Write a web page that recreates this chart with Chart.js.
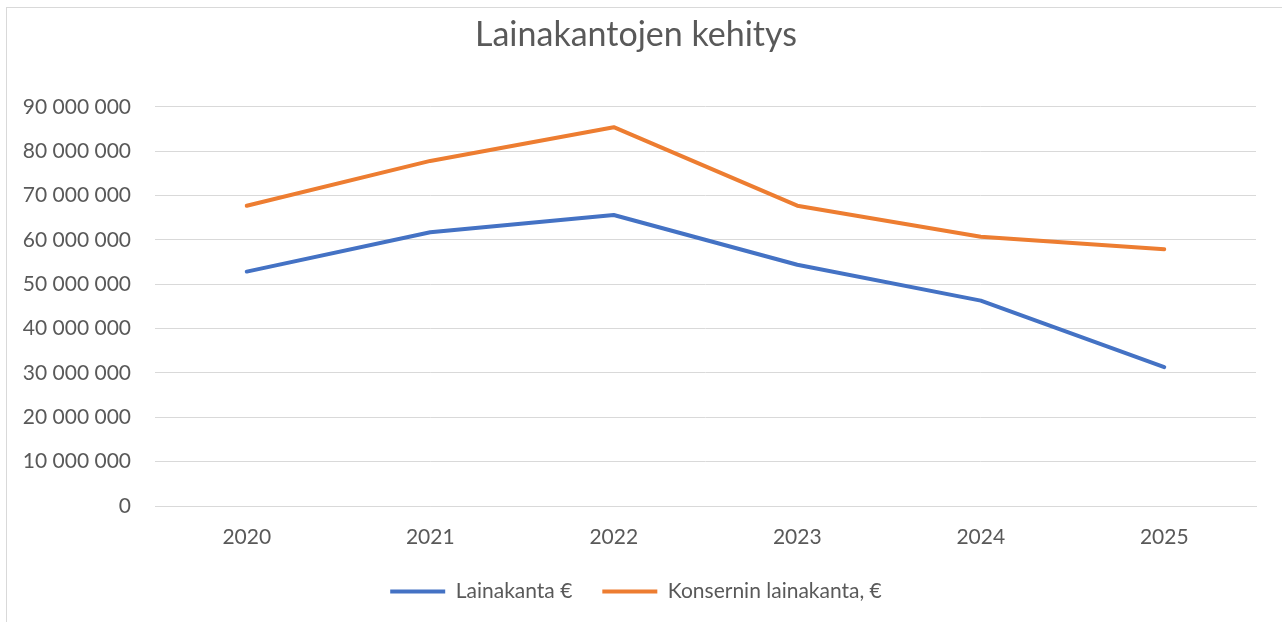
<!DOCTYPE html>
<html lang="fi">
<head>
    <meta charset="UTF-8">
    <title>Lainakantojen kehitys</title>
    <script src="https://cdn.jsdelivr.net/npm/chart.js"></script>
    <style>
        html, body { margin: 0; padding: 0; background: #fff; overflow: hidden; }
        .frame {
            position: absolute; left: 6px; top: 7px;
            width: 1300px; height: 640px;
            border: 1px solid #d9d9d9;
        }
        .chart-box { position: absolute; left: 0; top: 0; width: 1282px; height: 622px; }
    </style>
</head>
<body>
    <div class="frame"></div>
    <div class="chart-box">
        <canvas id="loanChart"></canvas>
    </div>
<script>
    // Values
    const years = ['2020', '2021', '2022', '2023', '2024', '2025'];
    const lainakanta = [52850000, 61700000, 65600000, 54400000, 46300000, 31300000];
    const konserninLainakanta = [67700000, 77800000, 85400000, 67700000, 60700000, 57900000];

    const textColor = '#595959';
    const gridColor = '#d9d9d9';
    const fontFamily = 'Lato, "Noto Sans", sans-serif';

    // 90 000 000 style numbers
    function formatNumber(v) {
        return String(v).replace(/\B(?=(\d{3})+(?!\d))/g, ' ');
    }

    const ctx = document.getElementById('loanChart').getContext('2d');
    new Chart(ctx, {
        type: 'line',
        data: {
            labels: years,
            datasets: [{
                label: 'Lainakanta €',
                data: lainakanta,
                borderColor: '#4472c4',
                backgroundColor: '#4472c4',
                borderWidth: 4,
                pointRadius: 0,
                tension: 0,
                borderCapStyle: 'round',
                borderJoinStyle: 'round'
            }, {
                label: 'Konsernin lainakanta, €',
                data: konserninLainakanta,
                borderColor: '#ed7d31',
                backgroundColor: '#ed7d31',
                borderWidth: 4,
                pointRadius: 0,
                tension: 0,
                borderCapStyle: 'round',
                borderJoinStyle: 'round'
            }]
        },
        options: {
            responsive: true,
            maintainAspectRatio: false,
            animation: false,
            layout: {
                padding: { left: 16, right: 26, top: 15, bottom: 10 }
            },
            scales: {
                x: {
                    offset: true,
                    grid: { display: false, drawTicks: false },
                    border: { display: true, color: gridColor, width: 1 },
                    ticks: {
                        color: textColor,
                        padding: 19,
                        font: { family: fontFamily, size: 21 }
                    },
                    afterFit: function(axis) { axis.height = 45; }
                },
                y: {
                    min: 0,
                    max: 90000000,
                    grid: { color: gridColor, lineWidth: 1, drawTicks: false },
                    border: { display: false },
                    ticks: {
                        stepSize: 10000000,
                        color: textColor,
                        padding: 24,
                        font: { family: fontFamily, size: 21 },
                        callback: function(value) { return formatNumber(value); }
                    },
                    afterFit: function(axis) { axis.width = 139; }
                }
            },
            plugins: {
                title: {
                    display: true,
                    text: 'Lainakantojen kehitys',
                    color: textColor,
                    font: { family: fontFamily, size: 34, weight: 'normal' },
                    padding: { top: 0, bottom: 51 }
                },
                legend: {
                    display: true,
                    position: 'bottom',
                    labels: {
                        usePointStyle: true,
                        pointStyle: 'line',
                        pointStyleWidth: 55,
                        color: textColor,
                        padding: 30,
                        font: { family: fontFamily, size: 21 }
                    }
                },
                tooltip: { enabled: false }
            }
        }
    });
</script>
</body>
</html>
